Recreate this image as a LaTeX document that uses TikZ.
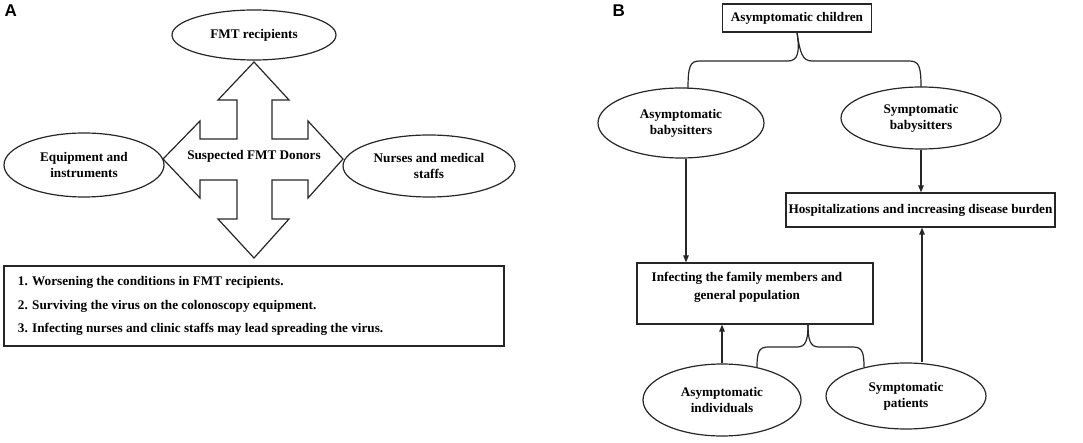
\documentclass[tikz,border=0pt]{standalone}
\usepackage{fontspec}
\setmainfont{Liberation Serif}
\newfontfamily\labelfont{Liberation Sans}
\usetikzlibrary{shapes.geometric,arrows.meta,calc}
\begin{document}
\begin{tikzpicture}[x=1pt,y=-1pt,
  line width=1.2pt, draw=black!85,
  every node/.style={font=\bfseries\fontsize{13.2}{15.8}\selectfont, align=center},
  oval/.style={draw=black!85, ellipse, inner sep=0pt},
  rbox/.style={draw=black!85, rectangle, inner sep=0pt},
  panel/.style={font=\labelfont\bfseries\fontsize{17}{17}\selectfont, anchor=north west, inner sep=0pt},
  arr/.style={-{Triangle[length=7pt,width=5.5pt]}},
]
\useasboundingbox (0,0) rectangle (1083,443);
% ---------------- Panel A ----------------
\node[panel] (lA) at (4,4) {A};
\node[oval, minimum width=164, minimum height=50] (rec) at (254,35) {FMT recipients};
\node[oval, minimum width=160, minimum height=64] (equ) at (84,165) {Equipment and\\instruments};
\node[oval, minimum width=172, minimum height=62] (nur) at (429,166) {Nurses and medical\\staffs};
\draw (254,62) -- (289,100) -- (272,100) -- (272,139) -- (308,139) -- (308,121)
  -- (343,159) -- (308,198) -- (308,180) -- (272,180) -- (272,219) -- (289,219)
  -- (254,258) -- (218,219) -- (237,219) -- (237,180) -- (200,180) -- (200,198)
  -- (163,159) -- (200,121) -- (200,139) -- (237,139) -- (237,100) -- (218,100) -- cycle;
\node (don) at (254,156) {Suspected FMT Donors};
\node[rbox, minimum width=500, minimum height=80] (res) at (254,306) {};
\node[anchor=west, align=left, font=\bfseries\fontsize{13.2}{23.5}\selectfont] (rest) at (14,306)
  {1. Worsening the conditions in FMT recipients.\\
   2. Surviving the virus on the colonoscopy equipment.\\
   3. Infecting nurses and clinic staffs may lead spreading the virus.};
% ---------------- Panel B ----------------
\node[panel] (lB) at (612,4) {B};
\node[rbox, minimum width=149, minimum height=28] (kids) at (797,18) {Asymptomatic children};
\node[oval, minimum width=166, minimum height=70] (ab) at (681,123) {Asymptomatic\\babysitters};
\node[oval, minimum width=160, minimum height=62] (sb) at (921,118) {Symptomatic\\babysitters};
\node[rbox, minimum width=269, minimum height=34] (hosp) at (920.5,210) {Hospitalizations and increasing disease burden};
\node[rbox, minimum width=236, minimum height=61] (inf) at (755,293.5) {};
\node[font=\bfseries\fontsize{13.2}{18}\selectfont] (inft) at (747,287) {Infecting the family members and\\general population};
\node[oval, minimum width=158, minimum height=72] (ai) at (722,400) {Asymptomatic\\individuals};
\node[oval, minimum width=160, minimum height=66] (sp) at (906,396) {Symptomatic\\patients};
% braces
\draw (kids.south) .. controls (800,52) and (798,61) .. (788,61) -- (700,61)
  .. controls (690,61) and (688,66) .. (688,89);
\draw (kids.south) .. controls (800,52) and (802,61) .. (812,61) -- (909,61)
  .. controls (919,61) and (921,66) .. (921,87);
\draw (808,324) .. controls (808,340) and (806,347) .. (797,347) -- (768,347)
  .. controls (759,347) and (757,352) .. (757,367);
\draw (808,324) .. controls (808,340) and (810,347) .. (819,347) -- (853,347)
  .. controls (862,347) and (864,352) .. (864,367);
% arrows
\draw[arr] (sb.south) -- (sb.south |- hosp.north);
\draw[arr] (ab.south -| 686,0) -- (686,0 |- inf.north);
\draw[arr] (ai.north) -- (ai.north |- inf.south);
\draw[arr] (sp.north -| 922,0) -- (922,0 |- hosp.south);
\end{tikzpicture}
\end{document}
